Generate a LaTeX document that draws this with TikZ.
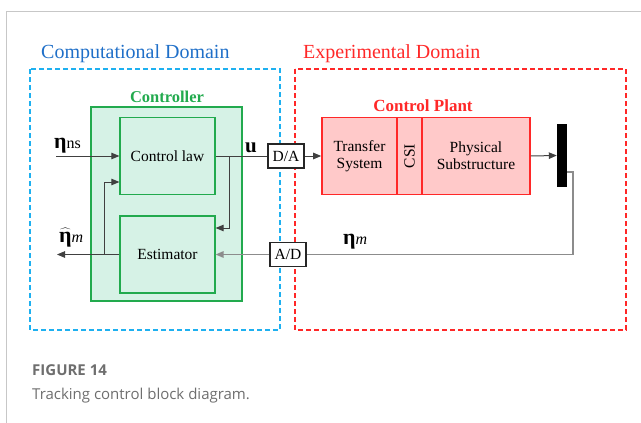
\documentclass[tikz,border=0pt]{standalone}
\usepackage{fontspec}
\setmainfont{Liberation Serif}
\newfontfamily\capfont{Open Sans}
\usetikzlibrary{arrows.meta}
\definecolor{dblue}{HTML}{1EB0F0}
\definecolor{tblue}{HTML}{1F6FC8}
\definecolor{dred}{HTML}{FF2828}
\definecolor{gborder}{HTML}{22AA4E}
\definecolor{gfill}{HTML}{D6F2E6}
\definecolor{rfill}{HTML}{FFC9C9}
\definecolor{lgray}{HTML}{8C8C8C}
\definecolor{capgray}{HTML}{6E6E6E}
\newcommand{\myeta}{{\fontsize{22}{22}\selectfont\bfseries η}}
\tikzset{
  txt/.style={font=\fontsize{15.5}{17}\selectfont, inner sep=0pt, align=center},
  gbox/.style={draw=gborder, fill=gfill, line width=1.2pt, minimum width=95pt, minimum height=77pt, txt},
  pbox/.style={draw=dred, fill=rfill, line width=1.6pt, minimum height=77pt, txt},
  conv/.style={draw=black!85, fill=white, line width=1.3pt, minimum width=36pt, minimum height=24pt, txt},
  sig/.style={draw=black!75, line width=1pt},
  arr/.style={sig, -{Triangle[length=8pt,width=6.5pt]}},
  fbsig/.style={draw=lgray, line width=1.4pt},
  fbarr/.style={fbsig, -{Triangle[length=8pt,width=6.5pt]}},
  dom/.style={line width=1.3pt, dash pattern=on 5pt off 3pt},
  lab/.style={anchor=base west, inner sep=0pt},
}
\begin{document}
\begin{tikzpicture}[x=1pt,y=-1pt]
\useasboundingbox (0,0) rectangle (641,423);
% outer frame
\draw[black!22, line width=1pt] (641,11) -- (6.5,11) -- (6.5,423);
% domains
\draw[dom, dblue] (30,69) rectangle (280,330);
\draw[dom, dred] (295,69) rectangle (626,330);
\node[lab, text=tblue, font=\fontsize{20}{22}\selectfont] (tcd) at (41,59) {Computational Domain};
\node[lab, text=dred, font=\fontsize{20}{22}\selectfont] (ted) at (303,58) {Experimental Domain};
% controller
\node[draw=gborder, fill=gfill, line width=2pt, minimum width=151pt, minimum height=194pt] (ctrl) at (166.5,204) {};
\node[anchor=base, inner sep=0pt, text=gborder, font=\fontsize{16.5}{18}\selectfont\bfseries] (tctrl) at (167,102) {Controller};
\node[gbox] (cl) at (167.5,156) {Control law};
\node[gbox] (est) at (167.5,254.5) {Estimator};
% converters
\node[conv] (da) at (286,156) {D/A};
\node[conv] (ad) at (288,254.5) {A/D};
% plant
\node[pbox, minimum width=75pt] (ts) at (359.5,156) {Transfer\\System};
\node[pbox, minimum width=25pt] (csi) at (409.5,156) {};
\node[txt, rotate=90] (tcsi) at (csi) {CSI};
\node[pbox, minimum width=108pt] (ps) at (476,156) {Physical\\Substructure};
\node[anchor=base, inner sep=0pt, text=dred, font=\fontsize{17}{19}\selectfont\bfseries] (tcp) at (423,111) {Control Plant};
\node[fill=black, inner sep=0pt, minimum width=10pt, minimum height=63pt] (bar) at (562,155.5) {};
% coordinates
\coordinate (in) at (56,156);
\coordinate (out) at (57,254.5);
\coordinate (br) at (229,156);
\coordinate (brd) at (229,228);
\coordinate (fbk) at (104,254.5);
\coordinate (fbu) at (104,182);
\coordinate (f1) at (573,172);
\coordinate (f2) at (573,254.5);
% signals
\draw[arr] (in) -- (cl.west);
\draw[sig] (cl.east) -- (da.west);
\draw[arr] (br) -- (brd) -- (est.east |- brd);
\draw[arr] (est.west) -- (out);
\draw[arr] (fbk) -- (fbu) -- (cl.west |- fbu);
\draw[arr] (da.east) -- (ts.west);
\draw[arr] (ps.east) -- (bar.west);
\draw[fbsig] (bar.east |- f1) -- (f1) -- (f2) -- (ad.east);
\draw[fbarr] (ad.west) -- (est.east);
% labels
\node[lab] (lns) at (54,148) {\myeta\fontsize{16}{17}\selectfont ns};
\node[lab] (lhat) at (59,242) {$\widehat{\mbox{\myeta}}$\fontsize{16}{17}\selectfont\itshape m};
\node[lab] (lm) at (343,244) {\myeta\fontsize{16}{17}\selectfont\itshape m};
\node[lab, font=\fontsize{21}{22}\selectfont\bfseries] (lu) at (245,152) {u};
% caption
\node[lab, text=capgray, font=\capfont\fontsize{15}{17}\selectfont\bfseries] (cap1) at (32,375) {FIGURE 14};
\node[lab, text=capgray, font=\capfont\fontsize{15}{17}\selectfont] (cap2) at (32,399) {Tracking control block diagram.};
\end{tikzpicture}
\end{document}
